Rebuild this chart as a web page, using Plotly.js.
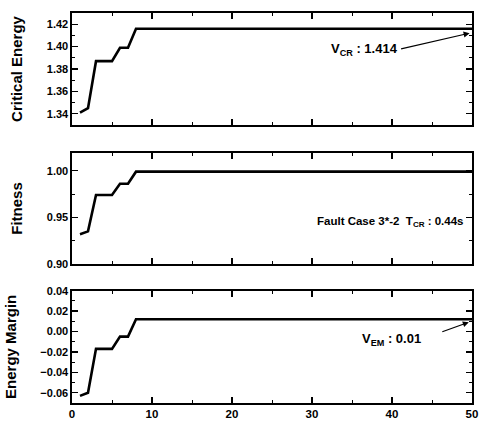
<!DOCTYPE html>
<html><head><meta charset="utf-8">
<script src="https://cdn.plot.ly/plotly-3.0.1.min.js"></script>
<style>html,body{margin:0;padding:0;background:#fff}#c{width:482px;height:421px}</style>
</head><body><div id="c"></div>
<script>
const generations = [1,2,3,4,5,6,7,8,9,10,11,12,13,14,15,16,17,18,19,20,21,22,23,24,25,26,27,28,29,30,31,32,33,34,35,36,37,38,39,40,41,42,43,44,45,46,47,48,49,50];
const criticalEnergy = [1.341,1.345,1.387,1.387,1.387,1.399,1.399,1.416,1.416,1.416,1.416,1.416,1.416,1.416,1.416,1.416,1.416,1.416,1.416,1.416,1.416,1.416,1.416,1.416,1.416,1.416,1.416,1.416,1.416,1.416,1.416,1.416,1.416,1.416,1.416,1.416,1.416,1.416,1.416,1.416,1.416,1.416,1.416,1.416,1.416,1.416,1.416,1.416,1.416,1.416];
const fitness = [0.932,0.935,0.974,0.974,0.974,0.986,0.986,0.999,0.999,0.999,0.999,0.999,0.999,0.999,0.999,0.999,0.999,0.999,0.999,0.999,0.999,0.999,0.999,0.999,0.999,0.999,0.999,0.999,0.999,0.999,0.999,0.999,0.999,0.999,0.999,0.999,0.999,0.999,0.999,0.999,0.999,0.999,0.999,0.999,0.999,0.999,0.999,0.999,0.999,0.999];
const energyMargin = [-0.063,-0.060,-0.017,-0.017,-0.017,-0.005,-0.005,0.012,0.012,0.012,0.012,0.012,0.012,0.012,0.012,0.012,0.012,0.012,0.012,0.012,0.012,0.012,0.012,0.012,0.012,0.012,0.012,0.012,0.012,0.012,0.012,0.012,0.012,0.012,0.012,0.012,0.012,0.012,0.012,0.012,0.012,0.012,0.012,0.012,0.012,0.012,0.012,0.012,0.012,0.012];
const yTitles = ['Critical Energy','Fitness','Energy Margin'];
const xTickVals = [0,10,20,30,40,50];

const F = 'Liberation Sans, Arial, sans-serif';
const lineStyle = {color:'#000', width:2.6};
const traces = [
  {x:generations, y:criticalEnergy, xaxis:'x', yaxis:'y', mode:'lines', line:lineStyle},
  {x:generations, y:fitness, xaxis:'x2', yaxis:'y2', mode:'lines', line:lineStyle},
  {x:generations, y:energyMargin, xaxis:'x3', yaxis:'y3', mode:'lines', line:lineStyle}
];
function xa(anchor, showLabels){
  return {anchor:anchor, range:[0,50], showgrid:false, zeroline:false, showline:true, linecolor:'#000', linewidth:1.6,
    mirror:'ticks', ticks:'inside', ticklen:6, tickwidth:1.3, tickcolor:'#000', tickvals:xTickVals,
    showticklabels:showLabels, tickfont:{family:F, size:11.5, color:'#000', weight:'bold'},
    minor:{dtick:5, tick0:0, ticks:'inside', ticklen:3, tickwidth:1, tickcolor:'#000'}};
}
function ya(anchor, domain, range, dtick, tick0, fmt, title, minorD){
  return {anchor:anchor, domain:domain, range:range, dtick:dtick, tick0:tick0, tickformat:fmt,
    showgrid:false, zeroline:false, showline:true, linecolor:'#000', linewidth:1.6, mirror:'ticks',
    ticks:'inside', ticklen:6, tickwidth:1.3, tickcolor:'#000',
    tickfont:{family:F, size:11, color:'#000', weight:'bold'},
    minor:{dtick:minorD, ticks:'inside', ticklen:3, tickwidth:1, tickcolor:'#000'},
    title:{text:title, font:{family:F, size:15, color:'#000', weight:'bold'}, standoff:20}};
}
const layout = {
  width:482, height:421, margin:{l:72, r:10, t:13, b:18}, showlegend:false,
  paper_bgcolor:'#fff', plot_bgcolor:'#fff',
  xaxis: xa('y', false), xaxis2: xa('y2', false), xaxis3: xa('y3', true),
  yaxis: ya('x', [0.7128,1], [1.33,1.43], 0.02, 1.34, '.2f', yTitles[0], 0.01),
  yaxis2: ya('x2', [0.3564,0.641], [0.90,1.019], 0.05, 0.90, '.2f', yTitles[1], 0.025),
  yaxis3: ya('x3', [0,0.288], [-0.07,0.04], 0.02, -0.06, '.2f', yTitles[2], 0.01),
  annotations:[
    {xref:'x', yref:'y', x:41, xanchor:'right', y:1.3975, text:'V<sub>CR</sub> : 1.414', showarrow:false, font:{family:F, size:13, color:'#000', weight:'bold'}},
    {xref:'x', yref:'y', x:49.7, y:1.412, text:'', showarrow:true, arrowhead:2, arrowsize:1, arrowwidth:1.2, arrowcolor:'#000', ax:-70, ay:16},
    {xref:'x2', yref:'y2', x:49.3, xanchor:'right', y:0.9447, text:'Fault Case 3*-2  T<sub>CR</sub> : 0.44s', showarrow:false, font:{family:F, size:11.5, color:'#000', weight:'bold'}},
    {xref:'x3', yref:'y3', x:43.9, xanchor:'right', y:-0.008, text:'V<sub>EM</sub> : 0.01', showarrow:false, font:{family:F, size:13, color:'#000', weight:'bold'}},
    {xref:'x3', yref:'y3', x:49.6, y:0.0091, text:'', showarrow:true, arrowhead:2, arrowsize:1, arrowwidth:1.2, arrowcolor:'#000', ax:-28, ay:10}
  ]
};
Plotly.newPlot('c', traces, layout, {displayModeBar:false, staticPlot:true});
</script></body></html>
